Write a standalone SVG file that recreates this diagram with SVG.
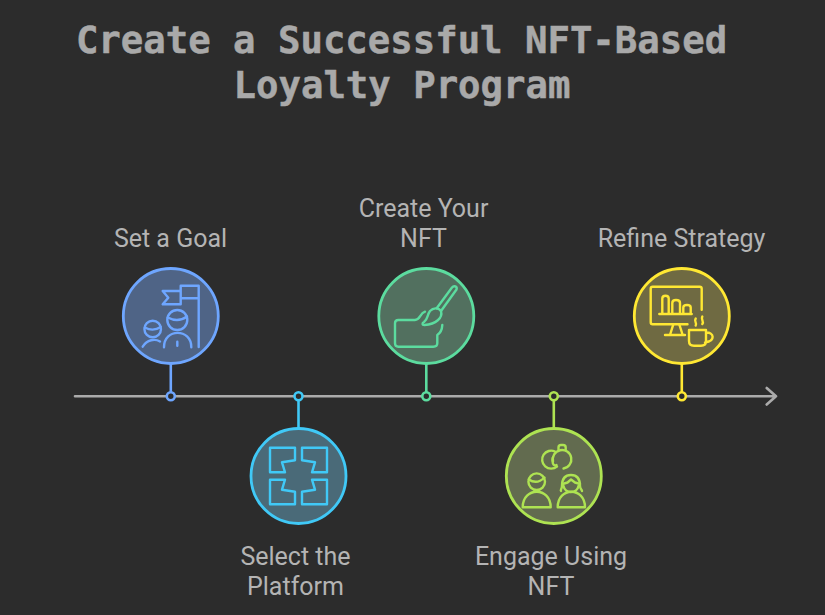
<svg xmlns="http://www.w3.org/2000/svg" width="825" height="615" viewBox="0 0 825 615">
<style>
.title{font:700 37.3px "DejaVu Sans Mono","Liberation Mono",monospace;fill:#a9a9a9;stroke:#a9a9a9;stroke-width:.5;text-anchor:middle}
.label{font:400 25px Roboto,"Liberation Sans",sans-serif;fill:#b4b4b4;text-anchor:middle}
.s{fill:none;stroke-width:2.400;stroke-linecap:round;stroke-linejoin:round}
.c{stroke-width:2.800}
.d{fill:#2c2c2c;stroke-width:2.600}
.l{fill:none;stroke-width:2.600}
.blue{stroke:#6ea6ff}.cyan{stroke:#40c9f7}.green{stroke:#5cdc9f}.lime{stroke:#aee352}.yellow{stroke:#ffe833}
</style>
<rect width="825" height="615" fill="#2c2c2c"/>
<text class="title" x="401.500" y="53">Create a Successful NFT-Based</text>
<text class="title" x="402" y="98">Loyalty Program</text>
<g id="connectors">
<path d="M75 396.300H776M766.700 388L776 396.300L766.700 404.500" fill="none" stroke="#ababab" stroke-width="2.600" stroke-linecap="round" stroke-linejoin="round"/>
<path class="l blue" d="M170.800 364V392"/><circle class="d blue" cx="170.800" cy="396.300" r="4"/>
<path class="l cyan" d="M298.500 428V400"/><circle class="d cyan" cx="298.500" cy="396.300" r="4"/>
<path class="l green" d="M426.300 364V392"/><circle class="d green" cx="426.300" cy="396.300" r="4"/>
<path class="l lime" d="M553.800 428V400"/><circle class="d lime" cx="553.800" cy="396.300" r="4"/>
<path class="l yellow" d="M681.800 364V392"/><circle class="d yellow" cx="681.800" cy="396.300" r="4"/>
</g>
<g id="node-goal">
<text class="label" x="170.500" y="246.500">Set a Goal</text>
<circle class="c blue" cx="170.800" cy="316" r="47.500" fill="#4f6486"/>
<g class="s blue">
<path d="M198.700 347V285.700H180.700V298.300H198.700M180.700 291H162.700L168.300 297.700L162.700 304.300H180.700V298.300"/>
<circle cx="177.300" cy="320" r="10"/>
<path d="M167.800 317.500Q178 323 187 316.500"/>
<path d="M164 347.300C164 328 191.300 328 191.300 347.300M177.300 341.700V345.700"/>
<circle cx="152.700" cy="329" r="8.300"/>
<path d="M144.800 327.500Q153 332 160.800 327"/>
<path d="M142.700 346.700C147 339.500 155 338.500 160 341.500"/>
</g>
</g>
<g id="node-platform">
<text class="label" x="295.500" y="564.500">Select the</text>
<text class="label" x="295.500" y="594.500">Platform</text>
<circle class="c cyan" cx="298.500" cy="476" r="47.500" fill="#4a6a78"/>
<g class="s cyan">
<path d="M270 447.700H295V460.300L282 462.300L285 472.300H270Z"/>
<path d="M327 447.700H302V460.300L315 462.300L312 472.300H327Z"/>
<path d="M270 504.300H295V491.700L282 489.700L285 479.700H270Z"/>
<path d="M327 504.300H302V491.700L315 489.700L312 479.700H327Z"/>
</g>
</g>
<g id="node-create">
<text class="label" x="423.500" y="216.500">Create Your</text>
<text class="label" x="423.500" y="246.500">NFT</text>
<circle class="c green" cx="426.300" cy="316" r="47.500" fill="#52705f"/>
<g class="s green">
<path d="M436.700 308.300L452 287.500C454 285 457.500 286.500 456.500 289.500L441 311"/>
<path d="M430 311C433 308 438 307 441 311C443 318 436 324 424.500 325C422 325 422 323 424 322C428 319 427 315 430 311Z"/>
<path d="M425 311.700C419.500 313.500 420.500 320 415 320H398.300Q395 320 395 323.300V343.300Q395 346.700 398.300 346.700H433.300Q437.300 346.700 437.300 343.300V335Q442 332 442.300 325"/>
</g>
</g>
<g id="node-engage">
<text class="label" x="551" y="564.500">Engage Using</text>
<text class="label" x="551" y="594.500">NFT</text>
<circle class="c lime" cx="553.800" cy="476" r="47.500" fill="#626b4f"/>
<g class="s lime">
<path d="M555 451.500A9 9 0 1 0 557 466.500"/>
<path d="M553 461.500A9.300 9.300 0 1 1 563.500 468.500"/>
<path d="M553 457.500C551.500 461 553 467 556.500 465M558.500 449.500V447.500Q558.500 445 561 445H563Q565.700 445 565.700 447.500V450"/>
<circle cx="536.700" cy="481.700" r="8.300"/>
<path d="M528.800 479.500Q537 485 544.500 477.500"/>
<path d="M522.700 507.300C522.700 486.500 550.700 486.500 550.700 507.300Z"/>
<path d="M571 475C564 475 562 480 562 486C562 489 560 490 561 491M571 475C578 475 580 480 580 486C580 489 582 490 582 491"/>
<path d="M562.500 484L567.500 482.500L571 479.500L575 482.500L580 484M563.500 486C565 494 577 494 578.500 486"/>
<path d="M557.700 507.300C557.700 486.500 585 486.500 585 507.300Z"/>
</g>
</g>
<g id="node-refine">
<text class="label" x="681.500" y="246.500">Refine Strategy</text>
<circle class="c yellow" cx="681.800" cy="316" r="47.500" fill="#6f6a42"/>
<g class="s yellow">
<path d="M701.700 309.700V288.700Q701.700 286.700 699.700 286.700H652.700Q650.700 286.700 650.700 288.700V322.300Q650.700 324.300 652.700 324.300H687.500"/>
<path d="M673.300 324.300L670 335M679.300 324.300L682.700 335M665 335H685"/>
<path d="M659.300 314H691.700M662.300 314V298.500Q662.300 295.700 665.500 295.700Q668.700 295.700 668.700 298.500V314M672.300 314V303Q672.300 300 676 300Q680 300 680 303V314M683.300 314V307.500Q683.300 305 687 305Q690.700 305 690.700 307.500V314"/>
<path d="M689 330H706V341Q706 345.700 701 345.700H694Q689 345.700 689 341ZM706 332.500C714 332 716 341 705 342.500"/>
<path d="M695.700 318.500C693.500 322 697.500 323 695.700 325.500M702.300 316.500C700.500 320 704.500 321 702.300 324"/>
</g>
</g>
</svg>
